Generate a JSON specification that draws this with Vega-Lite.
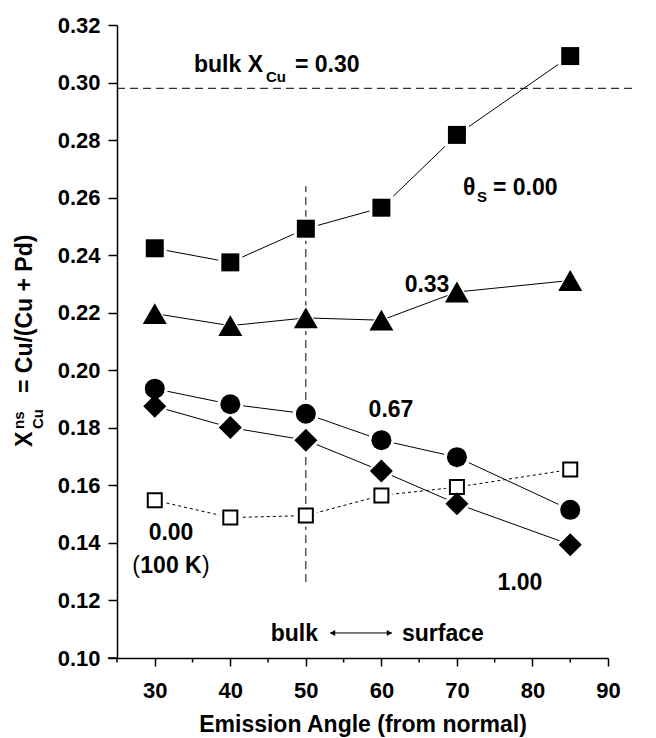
{
  "$schema": "https://vega.github.io/schema/vega-lite/v6.json",
  "width": 491,
  "height": 633,
  "autosize": {"type": "none"},
  "padding": {"left": 117, "top": 25, "right": 48, "bottom": 80},
  "background": "white",
  "config": {
    "view": {"stroke": null},
    "font": "Liberation Sans",
    "text": {"font": "Liberation Sans", "fontWeight": "bold", "color": "black", "fontSize": 23},
    "axis": {
      "domainColor": "black", "tickColor": "black", "labelColor": "black", "titleColor": "black",
      "labelFont": "Liberation Sans", "titleFont": "Liberation Sans",
      "labelFontWeight": "bold", "titleFontWeight": "bold",
      "labelFontSize": 22, "titleFontSize": 23, "grid": false,
      "domainWidth": 1.5, "tickWidth": 1.5
    }
  },
  "datasets": {
    "points": [
      {"a": 30, "v": 0.2424, "series": "0.00"},
      {"a": 40, "v": 0.2375, "series": "0.00"},
      {"a": 50, "v": 0.2492, "series": "0.00"},
      {"a": 60, "v": 0.2565, "series": "0.00"},
      {"a": 70, "v": 0.2818, "series": "0.00"},
      {"a": 85, "v": 0.3092, "series": "0.00"},
      {"a": 30, "v": 0.2197, "series": "0.33"},
      {"a": 40, "v": 0.2155, "series": "0.33"},
      {"a": 50, "v": 0.2182, "series": "0.33"},
      {"a": 60, "v": 0.2174, "series": "0.33"},
      {"a": 70, "v": 0.2272, "series": "0.33"},
      {"a": 85, "v": 0.2312, "series": "0.33"},
      {"a": 30, "v": 0.1936, "series": "0.67"},
      {"a": 40, "v": 0.1882, "series": "0.67"},
      {"a": 50, "v": 0.1849, "series": "0.67"},
      {"a": 60, "v": 0.1757, "series": "0.67"},
      {"a": 70, "v": 0.1698, "series": "0.67"},
      {"a": 85, "v": 0.1515, "series": "0.67"},
      {"a": 30, "v": 0.1875, "series": "1.00"},
      {"a": 40, "v": 0.1801, "series": "1.00"},
      {"a": 50, "v": 0.1757, "series": "1.00"},
      {"a": 60, "v": 0.1650, "series": "1.00"},
      {"a": 70, "v": 0.1536, "series": "1.00"},
      {"a": 85, "v": 0.1394, "series": "1.00"},
      {"a": 30, "v": 0.1548, "series": "0.00 (100 K)"},
      {"a": 40, "v": 0.1488, "series": "0.00 (100 K)"},
      {"a": 50, "v": 0.1495, "series": "0.00 (100 K)"},
      {"a": 60, "v": 0.1565, "series": "0.00 (100 K)"},
      {"a": 70, "v": 0.1594, "series": "0.00 (100 K)"},
      {"a": 85, "v": 0.1655, "series": "0.00 (100 K)"}
    ]
  },
  "resolve": {"scale": {"size": "independent"}},
  "layer": [
    {
      "data": {"values": [{"a": 25, "a2": 93.44, "v": 0.298}]},
      "mark": {"type": "rule", "strokeDash": [8, 5], "strokeWidth": 1, "color": "black"},
      "encoding": {
        "x": {
          "field": "a", "type": "quantitative",
          "scale": {"domain": [25, 90], "nice": false, "zero": false},
          "axis": {
            "values": [30, 40, 50, 60, 70, 80, 90],
            "format": "d",
            "tickSize": 8,
            "labelPadding": 14,
            "labelFlush": false,
            "labelOverlap": false,
            "title": "Emission Angle (from normal)",
            "titlePadding": 12
          }
        },
        "x2": {"field": "a2"},
        "y": {
          "field": "v", "type": "quantitative",
          "scale": {"domain": [0.1, 0.32], "nice": false, "zero": false},
          "axis": {
            "values": [0.1, 0.12, 0.14, 0.16, 0.18, 0.2, 0.22, 0.24, 0.26, 0.28, 0.3, 0.32],
            "format": ".2f",
            "tickSize": 9,
            "labelPadding": 8,
            "title": null
          }
        }
      }
    },
    {
      "data": {"values": [{"a": 25}, {"a": 35}, {"a": 45}, {"a": 55}, {"a": 65}, {"a": 75}, {"a": 85}]},
      "mark": {"type": "rule", "strokeWidth": 1.5, "color": "black"},
      "encoding": {
        "x": {"field": "a", "type": "quantitative"},
        "y": {"datum": 0.1},
        "y2": {"datum": 0.09844}
      }
    },
    {
      "data": {"values": [{"a": 23.8, "a2": 25}]},
      "mark": {"type": "rule", "strokeWidth": 1.5, "color": "black"},
      "encoding": {
        "x": {"field": "a", "type": "quantitative"},
        "x2": {"field": "a2"},
        "y": {"datum": 0.1}
      }
    },
    {
      "data": {"values": [{"a": 50, "v": 0.1264, "v2": 0.264}]},
      "mark": {"type": "rule", "strokeDash": [8, 5], "strokeWidth": 1, "color": "black"},
      "encoding": {
        "x": {"field": "a", "type": "quantitative"},
        "y": {"field": "v", "type": "quantitative"},
        "y2": {"field": "v2"}
      }
    },
    {
      "data": {"name": "points"},
      "transform": [{"filter": "datum.series !== '0.00 (100 K)'"}],
      "mark": {"type": "line", "strokeWidth": 1, "color": "black"},
      "encoding": {
        "x": {"field": "a", "type": "quantitative"},
        "y": {"field": "v", "type": "quantitative"},
        "detail": {"field": "series"}
      }
    },
    {
      "data": {"name": "points"},
      "transform": [{"filter": "datum.series === '0.00 (100 K)'"}],
      "mark": {"type": "line", "strokeWidth": 1, "color": "black", "strokeDash": [3, 3]},
      "encoding": {
        "x": {"field": "a", "type": "quantitative"},
        "y": {"field": "v", "type": "quantitative"}
      }
    },
    {
      "data": {"name": "points"},
      "mark": {"type": "point", "filled": true, "color": "white", "opacity": 1},
      "encoding": {
        "x": {"field": "a", "type": "quantitative"},
        "y": {"field": "v", "type": "quantitative"},
        "shape": {"field": "series", "type": "nominal", "legend": null,
          "scale": {"domain": ["0.00", "0.33", "0.67", "1.00", "0.00 (100 K)"], "range": ["square", "triangle-up", "circle", "diamond", "square"]}},
        "size": {"field": "series", "type": "ordinal", "legend": null,
          "scale": {"type": "ordinal", "domain": ["0.00", "0.33", "0.67", "1.00", "0.00 (100 K)"], "range": [576, 900, 676, 900, 484]}}
      }
    },
    {
      "data": {"name": "points"},
      "transform": [{"filter": "datum.series !== '0.00 (100 K)'"}],
      "mark": {"type": "point", "filled": true, "color": "black", "opacity": 1},
      "encoding": {
        "x": {"field": "a", "type": "quantitative"},
        "y": {"field": "v", "type": "quantitative"},
        "shape": {"field": "series", "type": "nominal", "legend": null},
        "size": {"field": "series", "type": "ordinal", "legend": null,
          "scale": {"type": "ordinal", "domain": ["0.00", "0.33", "0.67", "1.00"], "range": [324, 576, 400, 529]}}
      }
    },
    {
      "data": {"name": "points"},
      "transform": [{"filter": "datum.series === '0.00 (100 K)'"}],
      "mark": {"type": "point", "shape": "square", "filled": false, "color": "black", "strokeWidth": 2, "size": 196, "opacity": 1},
      "encoding": {
        "x": {"field": "a", "type": "quantitative"},
        "y": {"field": "v", "type": "quantitative"}
      }
    },
    {
      "data": {"values": [{"a": 53.2, "a2": 61.4, "v": 0.1087}]},
      "mark": {"type": "rule", "strokeWidth": 1, "color": "black"},
      "encoding": {
        "x": {"field": "a", "type": "quantitative"},
        "x2": {"field": "a2"},
        "y": {"field": "v", "type": "quantitative"}
      }
    },
    {
      "data": {"values": [{"a": 53.54, "v": 0.1087}]},
      "mark": {"type": "point", "shape": "triangle-left", "filled": true, "color": "black", "size": 36, "opacity": 1},
      "encoding": {
        "x": {"field": "a", "type": "quantitative"},
        "y": {"field": "v", "type": "quantitative"}
      }
    },
    {
      "data": {"values": [{"a": 61.06, "v": 0.1087}]},
      "mark": {"type": "point", "shape": "triangle-right", "filled": true, "color": "black", "size": 36, "opacity": 1},
      "encoding": {
        "x": {"field": "a", "type": "quantitative"},
        "y": {"field": "v", "type": "quantitative"}
      }
    },
    {
      "data": {"values": [
        {"a": 48.56, "v": 0.30377, "t": "= 0.30"},
        {"a": 70.80, "v": 0.26091, "t": "θ"},
        {"a": 74.77, "v": 0.26091, "t": "= 0.00"},
        {"a": 62.73, "v": 0.10589, "t": "surface"}
      ]},
      "mark": {"type": "text", "align": "left", "baseline": "alphabetic"},
      "encoding": {
        "x": {"field": "a", "type": "quantitative"},
        "y": {"field": "v", "type": "quantitative"},
        "text": {"field": "t"}
      }
    },
    {
      "data": {"values": [
        {"a": 44.33, "v": 0.30377, "t": "bulk X"},
        {"a": 51.61, "v": 0.10589, "t": "bulk"}
      ]},
      "mark": {"type": "text", "align": "right", "baseline": "alphabetic"},
      "encoding": {
        "x": {"field": "a", "type": "quantitative"},
        "y": {"field": "v", "type": "quantitative"},
        "text": {"field": "t"}
      }
    },
    {
      "data": {"values": [
        {"a": 66.04, "v": 0.2272, "t": "0.33"},
        {"a": 61.27, "v": 0.18375, "t": "0.67"},
        {"a": 78.35, "v": 0.12362, "t": "1.00"},
        {"a": 32.15, "v": 0.141, "t": "0.00"},
        {"a": 32.15, "v": 0.12952, "t": "100 K"}
      ]},
      "mark": {"type": "text", "align": "center", "baseline": "alphabetic"},
      "encoding": {
        "x": {"field": "a", "type": "quantitative"},
        "y": {"field": "v", "type": "quantitative"},
        "text": {"field": "t"}
      }
    },
    {
      "data": {"values": [{"a": 28.05, "v": 0.12952, "t": "("}]},
      "mark": {"type": "text", "align": "right", "baseline": "alphabetic", "fontWeight": "normal"},
      "encoding": {
        "x": {"field": "a", "type": "quantitative"},
        "y": {"field": "v", "type": "quantitative"},
        "text": {"field": "t"}
      }
    },
    {
      "data": {"values": [{"a": 36.25, "v": 0.12952, "t": ")"}]},
      "mark": {"type": "text", "align": "left", "baseline": "alphabetic", "fontWeight": "normal"},
      "encoding": {
        "x": {"field": "a", "type": "quantitative"},
        "y": {"field": "v", "type": "quantitative"},
        "text": {"field": "t"}
      }
    },
    {
      "data": {"values": [
        {"a": 44.72, "v": 0.30029, "t": "Cu"},
        {"a": 72.66, "v": 0.25865, "t": "S"}
      ]},
      "mark": {"type": "text", "align": "left", "baseline": "alphabetic", "fontSize": 15},
      "encoding": {
        "x": {"field": "a", "type": "quantitative"},
        "y": {"field": "v", "type": "quantitative"},
        "text": {"field": "t"}
      }
    },
    {
      "data": {"values": [
        {"a": 13.75, "v": 0.17332, "t": "X"},
        {"a": 13.75, "v": 0.19209, "t": "= Cu/(Cu + Pd)"}
      ]},
      "mark": {"type": "text", "align": "left", "baseline": "alphabetic", "angle": 270},
      "encoding": {
        "x": {"field": "a", "type": "quantitative"},
        "y": {"field": "v", "type": "quantitative"},
        "text": {"field": "t"}
      }
    },
    {
      "data": {"values": [
        {"a": 15.2, "v": 0.17958, "t": "Cu"},
        {"a": 12.69, "v": 0.17958, "t": "ns"}
      ]},
      "mark": {"type": "text", "align": "left", "baseline": "alphabetic", "angle": 270, "fontSize": 15},
      "encoding": {
        "x": {"field": "a", "type": "quantitative"},
        "y": {"field": "v", "type": "quantitative"},
        "text": {"field": "t"}
      }
    }
  ]
}
